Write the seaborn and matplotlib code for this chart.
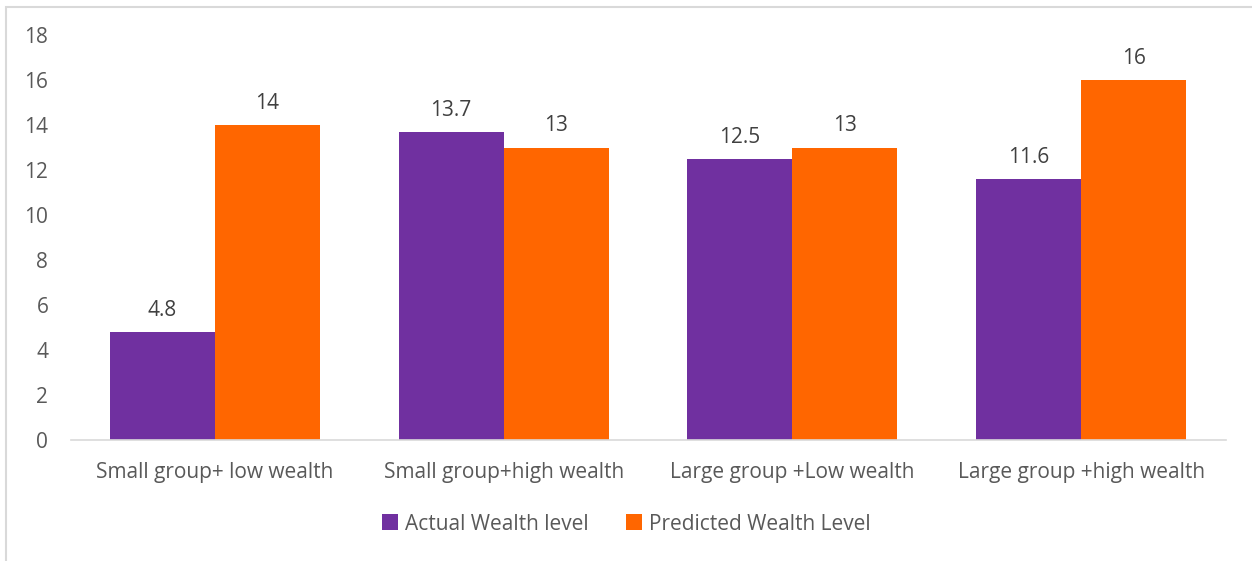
import matplotlib
matplotlib.use("Agg")
import matplotlib.pyplot as plt
import seaborn as sns
import pandas as pd
from matplotlib.patches import Rectangle

categories = ["Small group+ low wealth", "Small group+high wealth",
              "Large group +Low wealth", "Large group +high wealth"]
actual = [4.8, 13.7, 12.5, 11.6]
predicted = [14, 13, 13, 16]
series = ["Actual Wealth level", "Predicted Wealth Level"]
colors = ["#7030A0", "#FF6600"]
yticks = [0, 2, 4, 6, 8, 10, 12, 14, 16, 18]

df = pd.DataFrame({
    "category": categories * 2,
    "value": actual + predicted,
    "series": [series[0]] * len(categories) + [series[1]] * len(categories),
})

sns.set_theme(style="white")
plt.rcParams["font.family"] = ["Open Sans", "DejaVu Sans"]

W, H = 1252, 561
fig = plt.figure(figsize=(W / 100, H / 100), dpi=100)
ax = fig.add_axes([70.5 / W, (H - 440) / H, 1155 / W, 405 / H])

sns.barplot(data=df, x="category", y="value", hue="series", order=categories,
            hue_order=series, palette=colors, width=0.727, saturation=1,
            linewidth=0, edgecolor="none", ax=ax, legend=True)

for cont, vals in zip(ax.containers, [actual, predicted]):
    ax.bar_label(cont, labels=[f"{v:g}" for v in vals], padding=8,
                 fontsize=15, color="#404040")

ax.set_ylim(0, 18)
ax.set_yticks(yticks)
ax.set_xlim(-0.5, 3.5)
ax.set_xlabel("")
ax.set_ylabel("")
ax.tick_params(axis="both", labelsize=15, labelcolor="#595959", length=0)
ax.tick_params(axis="x", pad=16)
ax.tick_params(axis="y", pad=16)
for s in ["top", "right", "left"]:
    ax.spines[s].set_visible(False)
ax.spines["bottom"].set_color("#D9D9D9")
ax.spines["bottom"].set_linewidth(1.2)
ax.grid(False)

leg = ax.legend(loc="center", bbox_to_anchor=(0.5, (H - 524) / H),
                bbox_transform=fig.transFigure, ncol=2, frameon=False,
                fontsize=15, handlelength=0.8, handleheight=0.8,
                columnspacing=1.8, handletextpad=0.3)
for t in leg.get_texts():
    t.set_color("#595959")

# chart area frame
fig.patches.append(Rectangle((6 / W, -0.05), 1.1, (H - 7) / H + 0.05,
                             transform=fig.transFigure, fill=False,
                             edgecolor="#D9D9D9", linewidth=1.5))

fig.savefig("out.png", dpi=100)
